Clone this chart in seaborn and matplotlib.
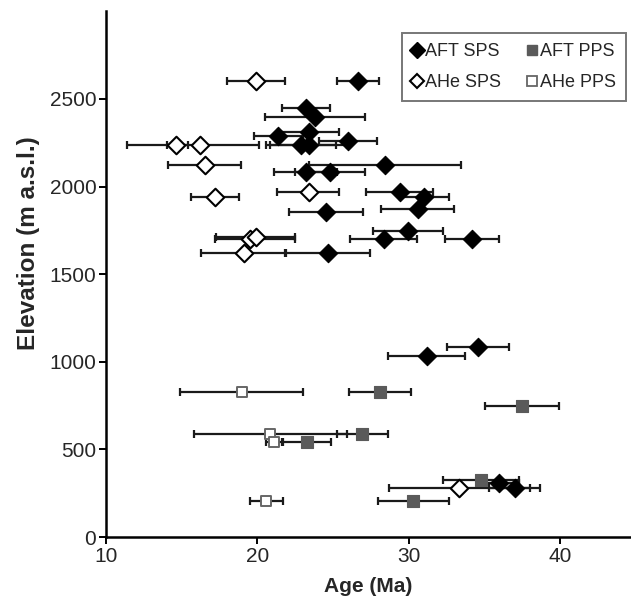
"""Age-elevation plot: AFT and AHe ages for SPS and PPS profiles."""

import matplotlib

matplotlib.use("Agg")
import matplotlib.pyplot as plt
import pandas as pd
import seaborn as sns
from matplotlib.lines import Line2D

# AFT SPS (filled diamonds)
aft_sps_age = [26.65, 23.2, 23.8, 21.4, 23.4, 26.0, 22.9, 23.4, 28.45, 23.2, 24.8,
               29.4, 31.05, 30.6, 24.55, 29.95, 28.35, 34.2, 24.66, 34.6, 31.2, 36.0, 37.0]
aft_sps_elev = [2603, 2447, 2395, 2289, 2313, 2260, 2237, 2237, 2123, 2082, 2082,
                1967, 1939, 1870, 1857, 1748, 1699, 1699, 1619, 1083, 1035, 310, 280]
aft_sps_err = [1.4, 1.6, 3.3, 1.6, 2.0, 1.9, 2.3, 2.55, 5.0, 2.1, 2.3,
               2.2, 1.6, 2.4, 2.45, 2.3, 2.2, 1.8, 2.8, 2.05, 2.55, 1.3, 1.7]

# AHe SPS (open diamonds)
ahe_sps_age = [19.9, 14.6, 16.2, 16.55, 17.2, 23.4, 19.5, 19.9, 19.1, 33.3]
ahe_sps_elev = [2603, 2237, 2237, 2123, 1943, 1967, 1699, 1710, 1619, 280]
ahe_sps_err_lo = [1.9, 3.2, 2.2, 2.45, 1.6, 2.1, 2.3, 2.6, 2.8, 4.6]
ahe_sps_err_hi = [1.9, 0.8, 3.9, 2.35, 1.6, 2.0, 3.0, 2.6, 2.8, 4.7]

# AFT PPS (grey squares)
aft_pps_age = [28.1, 37.5, 26.95, 23.3, 34.8, 30.3]
aft_pps_elev = [829, 748, 586, 544, 325, 207]
aft_pps_err = [2.05, 2.45, 1.7, 1.6, 2.5, 2.35]

# AHe PPS (open squares)
ahe_pps_age = [18.97, 20.85, 21.1, 20.6]
ahe_pps_elev = [826, 588, 544, 207]
ahe_pps_err = [4.05, 5.05, 0.5, 1.1]

BAR = "#1a1a1a"
GREY = "#5a5a5a"


def bars(ax, x, y, err, color):
    ax.errorbar(x, y, xerr=err, fmt="none", ecolor=color, elinewidth=1.6,
                capsize=3.2, capthick=1.6, zorder=1)


def main() -> None:
    sns.set_style("ticks")
    plt.rcParams["font.family"] = ["Liberation Sans", "DejaVu Sans"]

    fig = plt.figure(figsize=(6.31, 5.98), dpi=100)
    ax = fig.add_axes([0.168, 0.102, 0.832, 0.879])

    aft_sps = pd.DataFrame({"age": aft_sps_age, "elev": aft_sps_elev})
    ahe_sps = pd.DataFrame({"age": ahe_sps_age, "elev": ahe_sps_elev})
    aft_pps = pd.DataFrame({"age": aft_pps_age, "elev": aft_pps_elev})
    ahe_pps = pd.DataFrame({"age": ahe_pps_age, "elev": ahe_pps_elev})

    bars(ax, aft_pps_age, aft_pps_elev, aft_pps_err, BAR)
    bars(ax, ahe_pps_age, ahe_pps_elev, ahe_pps_err, BAR)
    bars(ax, aft_sps_age, aft_sps_elev, aft_sps_err, BAR)
    bars(ax, ahe_sps_age, ahe_sps_elev, [ahe_sps_err_lo, ahe_sps_err_hi], BAR)

    sns.scatterplot(data=aft_pps, x="age", y="elev", marker="s", s=70,
                    color=GREY, edgecolor=GREY, linewidth=0.8, ax=ax, zorder=3)
    sns.scatterplot(data=ahe_pps, x="age", y="elev", marker="s", s=60,
                    facecolor="white", edgecolor="#666666", linewidth=1.4,
                    ax=ax, zorder=3)
    sns.scatterplot(data=ahe_sps, x="age", y="elev", marker="D", s=80,
                    facecolor="white", edgecolor="black", linewidth=1.5,
                    ax=ax, zorder=4)
    sns.scatterplot(data=aft_sps, x="age", y="elev", marker="D", s=88,
                    color="black", edgecolor="black", linewidth=0.8, ax=ax, zorder=5)

    ax.set_xlim(10, 44.7)
    ax.set_ylim(0, 3000)
    ax.set_xticks([10, 20, 30, 40])
    ax.set_yticks([0, 500, 1000, 1500, 2000, 2500])
    ax.tick_params(labelsize=15, length=5, width=1.4, color="black", pad=2)
    for side in ("top", "right"):
        ax.spines[side].set_visible(False)
    for side in ("left", "bottom"):
        ax.spines[side].set_linewidth(1.8)
        ax.spines[side].set_color("black")

    ax.set_xlabel("Age (Ma)", fontsize=15, fontweight="bold", labelpad=8)
    ax.set_ylabel("Elevation (m a.s.l.)", fontsize=17.5, fontweight="bold")
    ax.yaxis.set_label_coords(-0.125, 0.56)

    handles = [
        Line2D([], [], ls="none", marker="D", ms=8, mfc="black", mec="black"),
        Line2D([], [], ls="none", marker="D", ms=7.5, mfc="white", mec="black", mew=1.5),
        Line2D([], [], ls="none", marker="s", ms=7, mfc=GREY, mec=GREY),
        Line2D([], [], ls="none", marker="s", ms=6.5, mfc="white", mec="#666666", mew=1.3),
    ]
    labels = ["AFT SPS", "AHe SPS", "AFT PPS", "AHe PPS"]
    leg = ax.legend(handles, labels, ncol=2, loc="upper right",
                    bbox_to_anchor=(0.997, 0.965), fontsize=13, frameon=True,
                    fancybox=False, edgecolor="#555555", handlelength=0.6,
                    handletextpad=0.15, columnspacing=1.4, borderpad=0.55,
                    labelspacing=0.75, borderaxespad=0.2)
    leg.get_frame().set_linewidth(1.4)

    fig.savefig("out.png", dpi=100, facecolor="white")
    plt.close(fig)


if __name__ == "__main__":
    main()
